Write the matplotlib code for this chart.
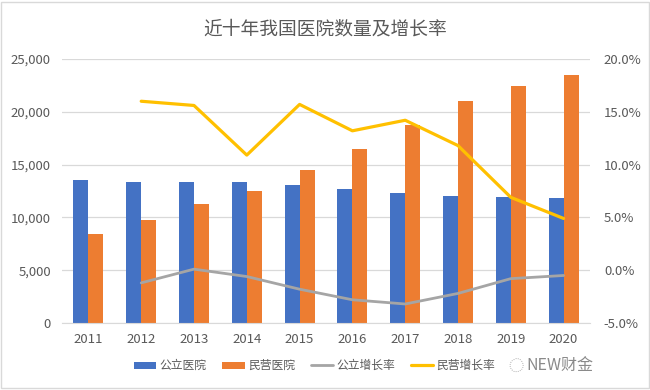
import numpy as np
import matplotlib.pyplot as plt
from matplotlib.patches import Rectangle
from matplotlib.ticker import FuncFormatter

plt.rcParams['font.family'] = ['Noto Sans CJK SC', 'DejaVu Sans']

years = ['2011', '2012', '2013', '2014', '2015', '2016', '2017', '2018', '2019', '2020']
public = [13539, 13384, 13396, 13314, 13069, 12708, 12297, 12032, 11930, 11870]
private = [8440, 9786, 11313, 12546, 14518, 16432, 18759, 20977, 22424, 23524]
# growth rates in %, first year has no value
public_growth = [np.nan, -1.2, 0.1, -0.6, -1.8, -2.8, -3.2, -2.2, -0.8, -0.5]
private_growth = [np.nan, 16.0, 15.6, 10.9, 15.7, 13.2, 14.2, 11.8, 6.9, 4.9]

c_blue = '#4472C4'
c_orange = '#ED7D31'
c_gray = '#A5A5A5'
c_yellow = '#FFC000'
c_text = '#595959'

fig = plt.figure(figsize=(6.5, 3.9), dpi=100)
ax = fig.add_axes([62/650, 67/390, 528/650, 264/390])
ax2 = ax.twinx()

x = np.arange(len(years))
w = 0.285
ax.bar(x - w/2, public, w, color=c_blue, label='公立医院', zorder=2)
ax.bar(x + w/2, private, w, color=c_orange, label='民营医院', zorder=2)

ax2.plot(x, public_growth, color=c_gray, lw=2.0, label='公立增长率', solid_capstyle='round')
ax2.plot(x, private_growth, color=c_yellow, lw=2.3, label='民营增长率', solid_capstyle='round')

ax.set_xlim(-0.5, len(years) - 0.5)
ax.set_ylim(0, 25000)
ax.set_yticks(np.arange(0, 25001, 5000))
ax.yaxis.set_major_formatter(FuncFormatter(lambda v, p: f'{int(v):,}'))
ax2.set_ylim(-5, 20)
ax2.set_yticks(np.arange(-5, 20.1, 5))
ax2.yaxis.set_major_formatter(FuncFormatter(lambda v, p: f'{v:.1f}%'))

ax.set_xticks(x)
ax.set_xticklabels(years)
ax.grid(axis='y', color='#D9D9D9', lw=0.9, zorder=0)
ax.set_axisbelow(True)

for a in (ax, ax2):
    for s in a.spines.values():
        s.set_visible(False)
    a.tick_params(length=0, colors=c_text, labelsize=9.5)
ax.spines['bottom'].set_visible(True)
ax.spines['bottom'].set_color('#D9D9D9')
ax.tick_params(axis='x', pad=7)
ax.tick_params(axis='y', pad=8)
ax2.tick_params(axis='y', pad=10)

fig.text(0.5, 0.925, '近十年我国医院数量及增长率', ha='center', va='center',
         fontsize=13.5, color=c_text)

h1, l1 = ax.get_legend_handles_labels()
h2, l2 = ax2.get_legend_handles_labels()
fig.legend(h1 + h2, l1 + l2, loc='center', bbox_to_anchor=(0.484, 0.062), ncol=4,
           frameon=False, fontsize=8.5, labelcolor=c_text, handlelength=1.9,
           handleheight=0.55, handletextpad=0.3, columnspacing=1.3)

fig.text(0.81, 0.062, 'NEW财金', ha='left', va='center', fontsize=11.5, color='#8a8a8a')
fig.text(0.782, 0.062, '◌', ha='left', va='center', fontsize=11, color='#b0b0b0')

fig.add_artist(Rectangle((0.002, 0.004), 0.996, 0.992, transform=fig.transFigure,
                         fill=False, edgecolor='#D9D9D9', lw=1))

fig.savefig('out.png', dpi=100)
